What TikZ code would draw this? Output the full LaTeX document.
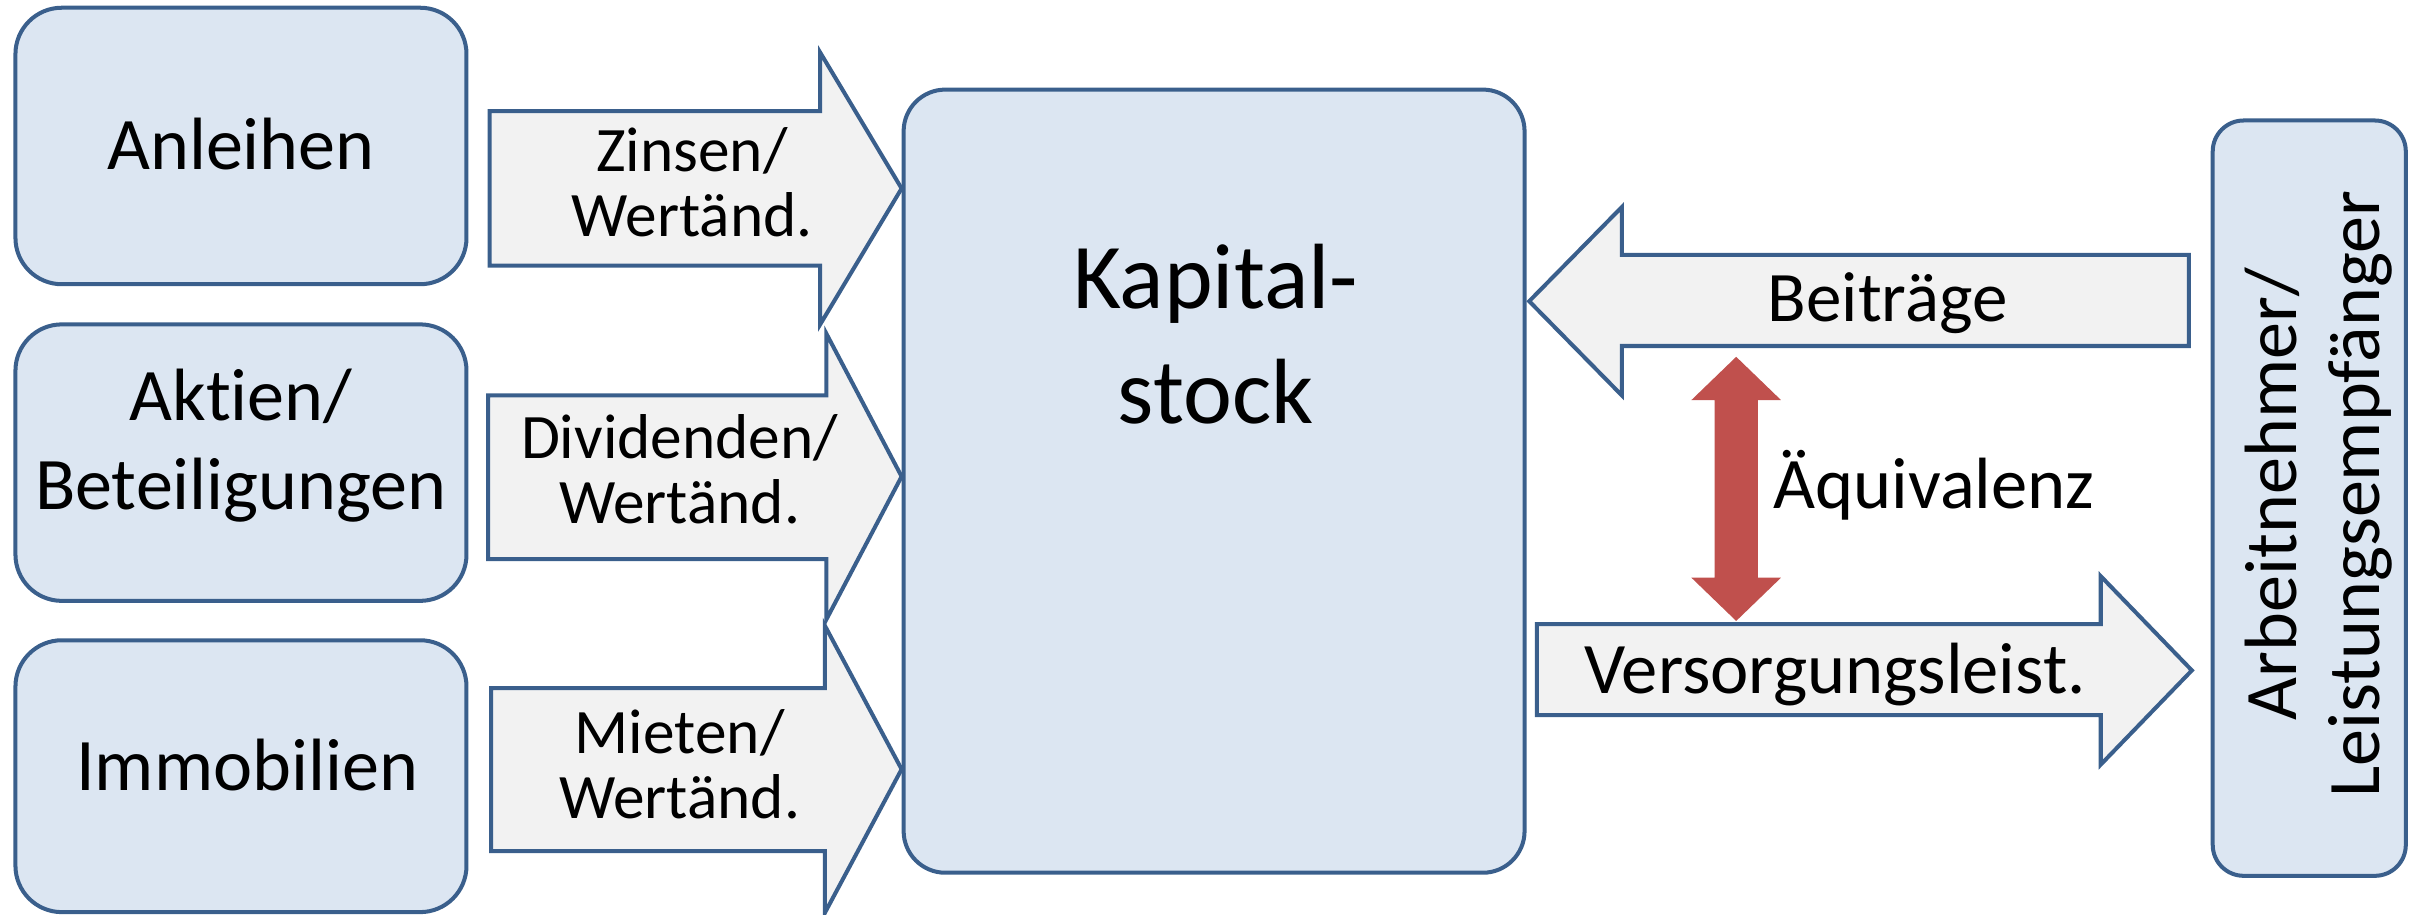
\documentclass[tikz,border=0pt]{standalone}
\usepackage{fontspec}
\setmainfont{Carlito}[RawFeature={-liga}]
\definecolor{boxfill}{HTML}{DCE6F2}
\definecolor{boxline}{HTML}{3A5F8C}
\definecolor{arrfill}{HTML}{F2F2F2}
\definecolor{eqred}{HTML}{C0504D}
\begin{document}
\begin{tikzpicture}[x=1pt,y=-1pt,
  box/.style={draw=boxline, fill=boxfill, line width=2.6pt, rectangle, inner sep=0pt},
  flow/.style={draw=boxline, fill=arrfill, line width=2.6pt, line join=miter},
  lbl/.style={inner sep=0pt, align=center, font=\fontsize{41}{42}\selectfont},
  big/.style={inner sep=0pt, align=center, font=\fontsize{48}{58}\selectfont},
  mid/.style={inner sep=0pt, font=\fontsize{47}{56}\selectfont},
]
\useasboundingbox (0,0) rectangle (1568,592);

% left boxes
\node[box, rounded corners=30pt, minimum width=292pt, minimum height=179pt] (anl) at (156,94.5) {};
\node[box, rounded corners=30pt, minimum width=292pt, minimum height=179pt] (akt) at (156,299.5) {};
\node[box, rounded corners=30pt, minimum width=292pt, minimum height=176pt] (imm) at (156,502.5) {};
\node[big, anchor=base] (anltxt) at (156,110) {Anleihen};
\node[big, anchor=base] (akttxt1) at (156,272) {Aktien/};
\node[big, anchor=base] (akttxt2) at (156,330) {Beteiligungen};
\node[big, anchor=base] (immtxt) at (160,512) {Immobilien};

% capital stock
\node[box, rounded corners=27pt, minimum width=402pt, minimum height=507pt] (kap) at (786,311.5) {};
\node[inner sep=0pt, anchor=base, font=\fontsize{60}{74}\selectfont] (kaptxt1) at (787,200) {Kapital-};
\node[inner sep=0pt, anchor=base, font=\fontsize{60}{74}\selectfont] (kaptxt2) at (787,274) {stock};

% right box
\node[box, rounded corners=20pt, minimum width=125pt, minimum height=489pt] (emp) at (1495,322.5) {};
\node[big, rotate=90, font=\fontsize{48}{54}\selectfont] (emptxt) at (1501,320) {Arbeitnehmer/\\Leistungsempfänger};

% income arrows
\draw[flow] (317,72) -- (531,72) -- (531,34) -- (kap.west |- 0,122) -- (531,210) -- (531,172) -- (317,172) -- cycle;
\draw[flow] (316,256) -- (535,256) -- (535,216) -- (kap.west |- 0,308.5) -- (535,401) -- (535,362) -- (316,362) -- cycle;
\draw[flow] (318,445.5) -- (534,445.5) -- (534,405) -- (kap.west |- 0,498) -- (534,591) -- (534,551) -- (318,551) -- cycle;
\node[lbl] (zintxt) at (448,118) {Zinsen/\\Wertänd.};
\node[lbl] (divtxt) at (440,304) {Dividenden/\\Wertänd.};
\node[lbl] (miettxt) at (440,495) {Mieten/\\Wertänd.};

% contributions and benefits
\draw[flow] (1417,165) -- (1050,165) -- (1050,134) -- (990,195) -- (1050,256) -- (1050,224) -- (1417,224) -- cycle;
\draw[flow] (995,404) -- (1360,404) -- (1360,373) -- (1419,434) -- (1360,495) -- (1360,463) -- (995,463) -- cycle;
\node[mid, font=\fontsize{46}{56}\selectfont, anchor=base] (beitxt) at (1222,208) {Beiträge};
\node[mid, anchor=base] (verstxt) at (1188,449) {Versorgungsleist.};

% equivalence
\fill[eqred] (1124,231) -- (1153,259) -- (1138,259) -- (1138,374) -- (1153,374) -- (1124,402)
  -- (1095,374) -- (1110,374) -- (1110,259) -- (1095,259) -- cycle;
\node[mid, anchor=base] (aeqtxt) at (1252,329) {Äquivalenz};
\end{tikzpicture}
\end{document}
